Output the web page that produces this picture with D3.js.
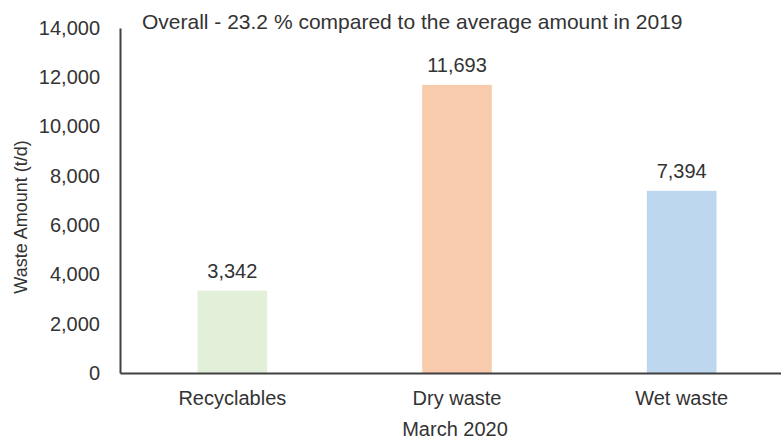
<!DOCTYPE html>
<html><head><meta charset="utf-8">
<script src="https://cdn.jsdelivr.net/npm/d3@7"></script>
<style>body{margin:0;background:#fff}svg{display:block}text{font-family:"Liberation Sans",Arial,sans-serif;fill:#333}</style>
</head><body>
<svg id="c" width="781" height="442"></svg>
<script>
const categories = ["Recyclables", "Dry waste", "Wet waste"];
const values = [3342, 11693, 7394];
const colors = ["#e2efd9", "#f8cbad", "#bdd7ee"];
const yTicks = [0, 2000, 4000, 6000, 8000, 10000, 12000, 14000];
const title = "Overall - 23.2 % compared to the average amount in 2019";
const xTitle = "March 2020";
const yTitle = "Waste Amount (t/d)";

const svg = d3.select("#c");
const x = d3.scaleBand().domain(categories).range([120, 794]).paddingInner(0.69).paddingOuter(0.345);
const y = d3.scaleLinear().domain([0, 14000]).range([373, 28]);
const fmt = d3.format(",");

svg.selectAll("rect.bar").data(values).join("rect")
  .attr("class","bar")
  .attr("x",(d,i)=>x(categories[i]))
  .attr("width",x.bandwidth())
  .attr("y",d=>y(d))
  .attr("height",d=>y(0)-y(d))
  .attr("fill",(d,i)=>colors[i]);

const ya = svg.append("g").attr("transform","translate(120,0)")
  .call(d3.axisLeft(y).tickValues(yTicks).tickFormat(fmt).tickSize(0).tickPadding(20));
ya.select(".domain").attr("stroke","#404040").attr("stroke-width",2);
ya.selectAll("text").attr("font-size",20).style("font-family","Liberation Sans, Arial, sans-serif").attr("fill","#333");

const xa = svg.append("g").attr("transform","translate(0,373)")
  .call(d3.axisBottom(x).tickSize(0).tickPadding(18));
xa.select(".domain").attr("stroke","#404040").attr("stroke-width",2);
xa.selectAll("text").attr("font-size",20).style("font-family","Liberation Sans, Arial, sans-serif").attr("fill","#333");

svg.selectAll("text.val").data(values).join("text")
  .attr("class","val")
  .attr("x",(d,i)=>x(categories[i])+x.bandwidth()/2)
  .attr("y",d=>y(d)-13)
  .attr("text-anchor","middle").attr("font-size",20)
  .text(d=>fmt(d));

svg.append("text").attr("x",142).attr("y",29).attr("font-size",21).text(title);
svg.append("text").attr("x",x("Dry waste")+x.bandwidth()/2 - 2).attr("y",436).attr("text-anchor","middle").attr("font-size",20).text(xTitle);
svg.append("text").attr("transform","translate(27,217) rotate(-90)").attr("text-anchor","middle").attr("font-size",18).text(yTitle);
</script>
</body></html>
